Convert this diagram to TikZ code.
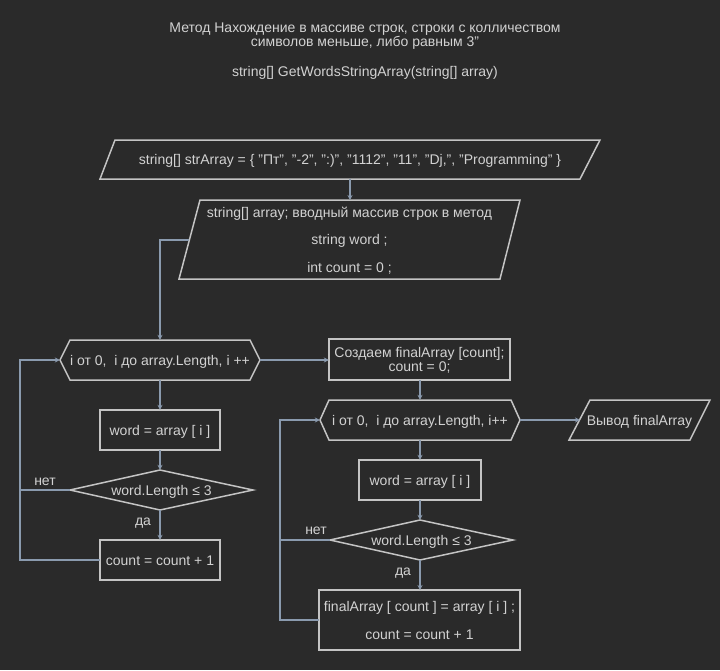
\documentclass[tikz,border=0pt]{standalone}
\usepackage{fontspec}
\setmainfont{Liberation Sans}
\usetikzlibrary{arrows.meta}
\definecolor{bg}{HTML}{2A2A2A}
\definecolor{edge}{HTML}{C4C4C4}
\definecolor{wire}{HTML}{8A9AAE}
\definecolor{ink}{HTML}{D2D2D2}

\begin{document}
\begin{tikzpicture}[x=1pt,y=-1pt,
  every node/.style={text=ink,inner sep=0pt,font=\fontsize{14}{15}\selectfont},
  one/.style={text height=13pt,text depth=3pt},
  frame/.style 2 args={minimum width=#1pt,minimum height=#2pt},
  outline/.style={draw=edge,line width=1.5pt,line join=miter},
  wire/.style={draw=wire,line width=1.5pt},
  flow/.style={wire,-{Stealth[length=5pt,width=5pt]}},
  tag/.style={one,text=ink}
]
\fill[bg] (0,0) rectangle (720,670);
\useasboundingbox (0,0) rectangle (720,670);

% heading
\node[align=center,font=\fontsize{14}{14}\selectfont] (title) at (365,36.5) {Метод Нахождение в массиве строк, строки с колличеством\\символов меньше, либо равным 3"};
\node[one] (sig) at (365,71) {string[] GetWordsStringArray(string[] array)};

% ---------- shape outlines ----------
% input data
\draw[outline] (115,140) -- (600,140) -- (580,179) -- (100,179) -- cycle;
% method parameters
\draw[outline] (200,200) -- (520,200) -- (500,279) -- (179,279) -- cycle;
% first loop
\draw[outline] (60,360) -- (70,340) -- (250,340) -- (260,360) -- (250,380) -- (70,380) -- cycle;
\draw[outline] (100,410) rectangle (220,450);
\draw[outline] (70,490) -- (160,470) -- (253,490) -- (160,510) -- cycle;
\draw[outline] (100,540) rectangle (220,580);
% second loop
\draw[outline] (329,339) rectangle (510,380);
\draw[outline] (320,420) -- (329,400) -- (511,400) -- (520,420) -- (511,440) -- (329,440) -- cycle;
\draw[outline] (590,400) -- (710,400) -- (690,440) -- (569,440) -- cycle;
\draw[outline] (359,460) rectangle (481,500);
\draw[outline] (330,540) -- (420,520) -- (513,540) -- (420,560) -- cycle;
\draw[outline] (319,590) rectangle (520,650);

% ---------- nodes ----------
\node[one,frame={500}{39}] (input) at (350,159.5) {string[] strArray = \{ "Пт", "-2", ":)", "1112", "11", "Dj,", "Programming" \}};
\node[frame={341}{79},align=center,font=\fontsize{14}{27.5}\selectfont] (vars) at (349.5,240.5)
  {string[] array; вводный массив строк в метод\\string word ;\\int count = 0 ;};
\node[one,frame={200}{40}] (loopA) at (160,360) {i от 0,~ i до array.Length, i ++};
\node[one,frame={120}{40}] (readA) at (160,430) {word = array [ i ]};
\node[one,frame={183}{40}] (testA) at (161.5,490) {word.Length ≤ 3};
\node[one,frame={120}{40}] (countA) at (160,560) {count = count + 1};

\node[frame={181}{41},align=center,font=\fontsize{14}{14}\selectfont] (make) at (419.5,360.5) {Создаем finalArray [count];\\count = 0;};
\node[one,frame={200}{40}] (loopB) at (420,420) {i от 0,~ i до array.Length, i++};
\node[one,frame={141}{40}] (output) at (639.5,420) {Вывод finalArray};
\node[one,frame={122}{40}] (readB) at (420,480) {word = array [ i ]};
\node[one,frame={183}{40}] (testB) at (421.5,540) {word.Length ≤ 3};
\node[frame={201}{60},align=center,font=\fontsize{14}{28}\selectfont] (store) at (419.5,620)
  {finalArray [ count ] = array [ i ] ;\\count = count + 1};

% helper points on slanted edges and loop corners
\coordinate (varsL) at (189,240);
\coordinate (outL) at (580,420);
\coordinate (railA) at (20,360);
\coordinate (railB) at (280,420);
\coordinate (makeS) at (420,380);
\coordinate (varsN) at (350,200);
\coordinate (storeN) at (420,590);

% ---------- connectors ----------
\draw[flow] (input.south) -- (varsN);
\draw[flow] (varsL) -| (loopA.north);
\draw[flow] (loopA.south) -- (readA.north);
\draw[flow] (readA.south) -- (testA.north -| readA.south);
\draw[flow] (testA.south -| readA.south) -- (countA.north);
\draw[wire] (testA.west) -- (testA.west -| railA);
\draw[flow] (countA.west) -| (railA) -- (loopA.west);

\draw[flow] (loopA.east) -- (loopA.east -| make.west);
\draw[flow] (makeS) -- (loopB.north);
\draw[flow] (loopB.east) -- (outL);
\draw[flow] (loopB.south) -- (readB.north);
\draw[flow] (readB.south) -- (testB.north -| readB.south);
\draw[flow] (testB.south -| readB.south) -- (storeN);
\draw[wire] (testB.west) -- (testB.west -| railB);
\draw[flow] (store.west) -| (railB) -- (loopB.west);

% branch labels
\node[tag] (noA) at (45,480) {нет};
\node[tag] (yesA) at (143,520) {да};
\node[tag] (noB) at (316,529) {нет};
\node[tag] (yesB) at (403,570) {да};
\end{tikzpicture}
\end{document}
